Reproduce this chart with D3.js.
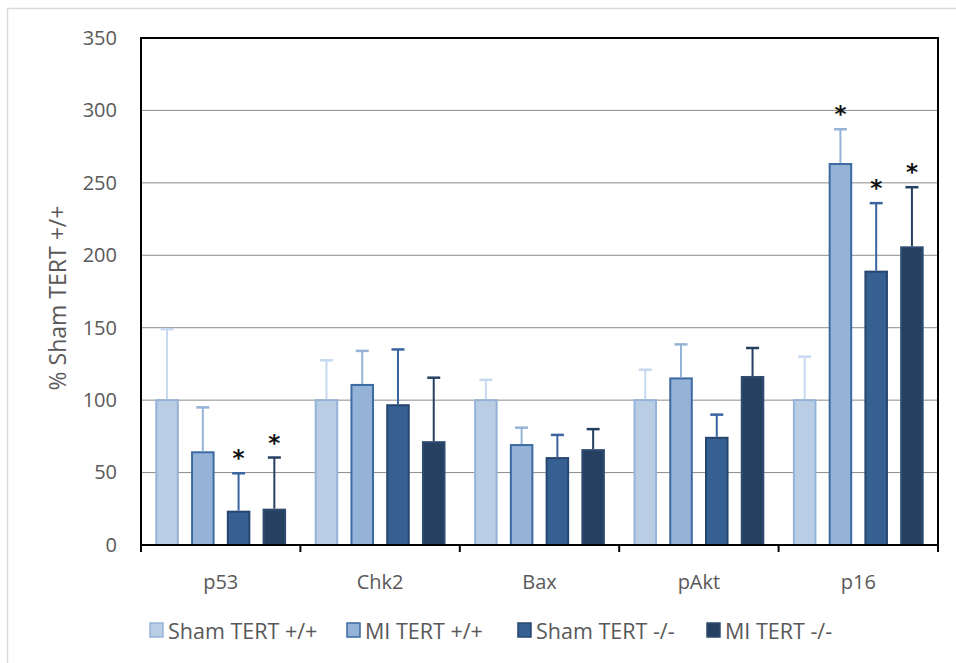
<!DOCTYPE html>
<html>
<head>
<meta charset="utf-8">
<script src="https://cdn.jsdelivr.net/npm/d3@7"></script>
<style>
  html, body { margin: 0; padding: 0; background: #fff; }
  svg { display: block; }
</style>
</head>
<body>
<svg id="chart" width="956" height="663"></svg>
<script>
// Protein levels, % of Sham TERT +/+
const categories = ["p53", "Chk2", "Bax", "pAkt", "p16"];
const seriesNames = ["Sham TERT +/+", "MI TERT +/+", "Sham TERT -/-", "MI TERT -/-"];
const shamWT = [100, 100, 100, 100, 100];
const miWT   = [64, 110.5, 69, 115, 263];
const shamKO = [23, 96.5, 60, 74, 188.7];
const miKO   = [24.4, 71, 65.5, 116, 205.5];
const shamWTErr = [49, 27.5, 14, 21, 30];
const miWTErr   = [31, 23.5, 12, 23.5, 24];
const shamKOErr = [26.5, 38.5, 16, 16, 47.3];
const miKOErr   = [36, 44.5, 14.5, 20, 41.5];
// significance markers (true = asterisk)
const sigMI   = [false, false, false, false, true];
const sigShKO = [true, false, false, false, true];
const sigMiKO = [true, false, false, false, true];
const yTicks = [0, 50, 100, 150, 200, 250, 300, 350];

const fills   = ["#b9cde5", "#95b3d7", "#376092", "#254061"];
const strokes = ["#95b3d7", "#3d6aa3", "#27466f", "#2f4c70"];
const errCols = ["#c6d9f1", "#95b3d7", "#3a64a0", "#254061"];

const values = [shamWT, miWT, shamKO, miKO];
const errs = [shamWTErr, miWTErr, shamKOErr, miKOErr];
const sigs = [null, sigMI, sigShKO, sigMiKO];

const font = "'Open Sans', 'Noto Sans', sans-serif";
const textCol = "#595959";

const svg = d3.select("#chart");
const m = { left: 141, top: 38, right: 938, bottom: 545 };

// outer chart frame
svg.append("rect").attr("x", 7.5).attr("y", 8.5).attr("width", 960).attr("height", 680)
  .attr("fill", "none").attr("stroke", "#d9d9d9").attr("stroke-width", 1.5);

const x0 = d3.scaleBand().domain(categories).range([m.left, m.right]).padding(0);
const x1 = d3.scaleBand().domain(seriesNames).range([0, x0.bandwidth()])
  .paddingInner(0.342).paddingOuter(0.40);
const y = d3.scaleLinear().domain([0, 350]).range([m.bottom, m.top]);

// gridlines
svg.append("g").selectAll("line").data(yTicks.filter(t => t > 0 && t < 350)).join("line")
  .attr("x1", m.left).attr("x2", m.right)
  .attr("y1", d => y(d)).attr("y2", d => y(d))
  .attr("stroke", "#8c8c8c").attr("stroke-width", 1);

// y axis labels
const yAxis = d3.axisLeft(y).tickValues(yTicks).tickSize(0).tickPadding(24);
const gy = svg.append("g").attr("transform", `translate(${m.left},0)`).call(yAxis);
gy.select(".domain").remove();
gy.selectAll("text").attr("font-family", font).attr("font-size", 20).attr("fill", textCol);

// bars, error bars, asterisks
const rows = [];
seriesNames.forEach((s, si) => {
  categories.forEach((c, ci) => {
    rows.push({ s, si, c, v: values[si][ci], e: errs[si][ci], sig: sigs[si] ? sigs[si][ci] : false });
  });
});

const gBars = svg.append("g");
gBars.selectAll("rect").data(rows).join("rect")
  .attr("x", d => x0(d.c) + x1(d.s) + 1)
  .attr("y", d => y(d.v))
  .attr("width", x1.bandwidth() - 2)
  .attr("height", d => y(0) - y(d.v))
  .attr("fill", d => fills[d.si])
  .attr("stroke", d => strokes[d.si])
  .attr("stroke-width", 2);

const gErr = svg.append("g");
rows.forEach(d => {
  const cx = x0(d.c) + x1(d.s) + x1.bandwidth() / 2;
  const top = y(d.v + d.e);
  gErr.append("line").attr("x1", cx).attr("x2", cx).attr("y1", y(d.v) - 1).attr("y2", top)
    .attr("stroke", errCols[d.si]).attr("stroke-width", 2);
  gErr.append("line").attr("x1", cx - 6.5).attr("x2", cx + 6.5).attr("y1", top).attr("y2", top)
    .attr("stroke", errCols[d.si]).attr("stroke-width", 2.5);
  if (d.sig) {
    gErr.append("text").attr("x", cx).attr("y", top - 7)
      .attr("text-anchor", "middle").attr("font-family", "'DejaVu Sans', sans-serif")
      .attr("font-weight", "bold").attr("font-size", 23).attr("fill", "#111").text("*");
  }
});

// plot frame
svg.append("rect").attr("x", m.left).attr("y", m.top)
  .attr("width", m.right - m.left).attr("height", m.bottom - m.top)
  .attr("fill", "none").attr("stroke", "#000").attr("stroke-width", 2);

// x axis
const xAxis = d3.axisBottom(x0).tickSize(0).tickPadding(30);
const gx = svg.append("g").attr("transform", `translate(0,${m.bottom})`).call(xAxis);
gx.select(".domain").remove();
gx.selectAll("text").attr("font-family", font).attr("font-size", 20).attr("fill", textCol);
// category separator ticks
const bounds = categories.map(c => x0(c)).concat([m.right]);
svg.append("g").selectAll("line").data(bounds).join("line")
  .attr("x1", d => d).attr("x2", d => d).attr("y1", m.bottom).attr("y2", m.bottom + 7)
  .attr("stroke", "#000").attr("stroke-width", 2);

// y axis title
svg.append("text")
  .attr("transform", "translate(66,298) rotate(-90)")
  .attr("text-anchor", "middle").attr("font-family", font).attr("font-size", 23)
  .attr("fill", textCol).text("% Sham TERT +/+");

// legend
const legX = [150, 347, 518, 707];
const lg = svg.append("g");
seriesNames.forEach((s, i) => {
  lg.append("rect").attr("x", legX[i]).attr("y", 623).attr("width", 13).attr("height", 14)
    .attr("fill", fills[i]).attr("stroke", strokes[i]).attr("stroke-width", 1.5);
  lg.append("text").attr("x", legX[i] + 18).attr("y", 638.5)
    .attr("font-family", font).attr("font-size", 21.5).attr("fill", textCol).text(s);
});
</script>
</body>
</html>
